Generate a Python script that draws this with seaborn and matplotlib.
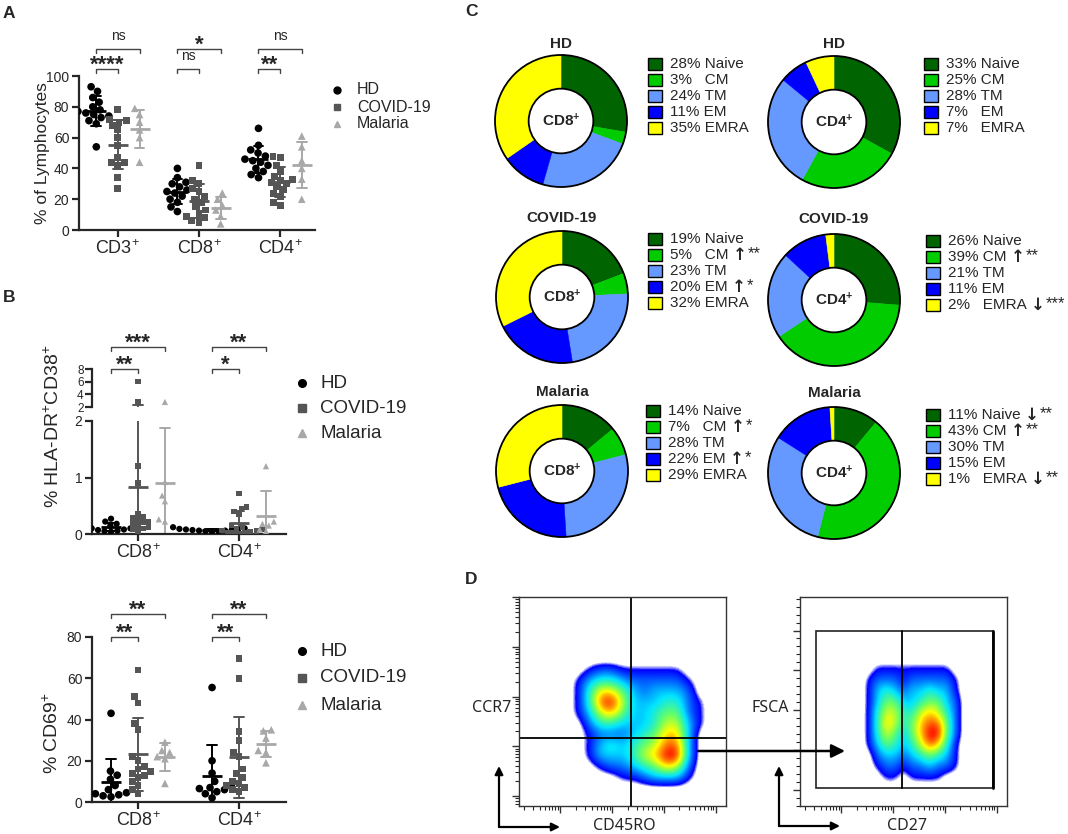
import numpy as np
import pandas as pd
import seaborn as sns
import matplotlib.pyplot as plt
import matplotlib.transforms as mtransforms
from matplotlib.colors import LinearSegmentedColormap
from matplotlib.lines import Line2D
from matplotlib.patches import Rectangle, Circle, FancyArrowPatch
from matplotlib.ticker import AutoMinorLocator

groups = ['HD', 'COVID-19', 'Malaria']

# A: % of lymphocytes
cells_a = ['CD3+', 'CD8+', 'CD4+']
lym_hd_cd3 = [93, 90, 86, 83, 80, 78, 77, 76, 75, 74, 73, 71, 69, 54]
lym_covid_cd3 = [78, 72, 71, 70, 68, 65, 60, 55, 47, 44, 42, 44, 34, 27]
lym_mal_cd3 = [79, 75, 70, 65, 60, 44]
lym_hd_cd8 = [40, 34, 31, 30, 28, 26, 25, 24, 22, 20, 18, 15, 12]
lym_covid_cd8 = [42, 32, 30, 27, 25, 22, 20, 18, 15, 13, 11, 9, 8, 6, 5]
lym_mal_cd8 = [24, 20, 16, 13, 9, 4]
lym_hd_cd4 = [66, 55, 52, 50, 48, 46, 45, 44, 42, 40, 38, 36, 34]
lym_covid_cd4 = [48, 47, 42, 38, 35, 33, 32, 31, 30, 28, 26, 24, 22, 18, 16]
lym_mal_cd4 = [61, 54, 45, 40, 33, 20]
a_sig_covid = ['****', 'ns', '**']
a_sig_mal = ['ns', '*', 'ns']

# B: HLA-DR+CD38+ and CD69+
cells_b = ['CD8+', 'CD4+']
act_hd_cd8 = [0.27, 0.22, 0.18, 0.15, 0.13, 0.12, 0.1, 0.1, 0.08, 0.07, 0.06, 0.05, 0.04]
act_covid_cd8 = [6.0, 2.8, 1.2, 0.9, 0.35, 0.3, 0.28, 0.25, 0.22, 0.2, 0.18, 0.15, 0.12, 0.1, 0.08, 0.05]
act_mal_cd8 = [2.8, 0.92, 0.68, 0.58, 0.26, 0.22]
act_hd_cd4 = [0.12, 0.1, 0.09, 0.08, 0.08, 0.07, 0.07, 0.06, 0.06, 0.05, 0.05, 0.04]
act_covid_cd4 = [0.72, 0.48, 0.44, 0.4, 0.35, 0.15, 0.12, 0.1, 0.08, 0.06, 0.05, 0.04, 0.03, 0.02, 0.02, 0.01]
act_mal_cd4 = [1.2, 0.22, 0.18, 0.15, 0.08, 0.05]
act_sig_covid = ['**', '*']
act_sig_mal = ['***', '**']

cd69_hd_cd8 = [43, 15, 13, 11, 8, 6, 5, 4.5, 4, 3.5, 3, 2.5]
cd69_covid_cd8 = [64, 51, 48, 38, 35, 22, 20, 17, 16, 15, 14, 13, 12, 10, 8, 6, 4]
cd69_mal_cd8 = [29, 25, 24, 22, 21, 9]
cd69_hd_cd4 = [55.5, 20, 14, 10, 8, 7, 6.5, 6, 5, 4, 2]
cd69_covid_cd4 = [69.5, 60, 34, 30, 24, 22, 16, 14, 12, 10, 9, 8, 7, 6, 5]
cd69_mal_cd4 = [35, 34.5, 31, 25, 24, 19]
cd69_sig_covid = ['**', '**']
cd69_sig_mal = ['**', '**']

# C: memory subsets
subsets = ['Naive', 'CM', 'TM', 'EM', 'EMRA']
subset_colors = ['#006400', '#00cc00', '#6699ff', '#0000ff', '#ffff00']
cd8_hd = [28, 3, 24, 11, 35]
cd4_hd = [33, 25, 28, 7, 7]
cd8_covid = [19, 5, 23, 20, 32]
cd4_covid = [26, 39, 21, 11, 2]
cd8_mal = [14, 7, 28, 22, 29]
cd4_mal = [11, 43, 30, 15, 1]
no_sig = ['', '', '', '', '']
cd8_covid_sig = ['', '↑**', '', '↑*', '']
cd4_covid_sig = ['', '↑**', '', '', '↓***']
cd8_mal_sig = ['', '↑*', '', '↑*', '']
cd4_mal_sig = ['↓**', '↑**', '', '', '↓**']

# D: density (rows top to bottom)
flow_ccr7 = [
    [0, 1, 2, 2, 1, 1, 1, 1, 1, 1, 0, 0],
    [1, 3, 4, 4, 3, 2, 2, 2, 2, 2, 1, 0],
    [1, 4, 7, 7, 5, 3, 2, 3, 3, 3, 2, 0],
    [1, 4, 8, 9, 6, 3, 3, 3, 4, 4, 2, 1],
    [1, 3, 6, 7, 5, 3, 3, 4, 5, 5, 2, 1],
    [0, 2, 4, 4, 3, 3, 3, 4, 6, 6, 3, 1],
    [0, 1, 2, 2, 2, 3, 4, 5, 7, 7, 3, 0],
    [0, 1, 3, 4, 3, 4, 5, 6, 8, 8, 3, 0],
    [0, 1, 3, 3, 3, 4, 6, 7, 9, 9, 3, 0],
    [0, 0, 1, 2, 2, 3, 4, 5, 7, 6, 2, 0],
    [0, 0, 0, 0, 1, 1, 2, 3, 3, 3, 1, 0],
]
flow_cd27 = [
    [0, 1, 1, 1, 1, 1, 1, 1, 1, 1, 0, 0],
    [1, 2, 2, 2, 1, 2, 2, 2, 2, 2, 1, 0],
    [1, 3, 4, 3, 2, 3, 3, 4, 3, 3, 1, 0],
    [1, 3, 5, 5, 3, 3, 4, 5, 5, 3, 2, 0],
    [1, 4, 6, 6, 4, 4, 6, 7, 6, 4, 2, 0],
    [1, 4, 7, 6, 4, 5, 7, 8, 8, 5, 2, 0],
    [1, 4, 6, 5, 3, 5, 7, 9, 9, 5, 2, 0],
    [1, 3, 5, 4, 3, 4, 6, 8, 7, 4, 1, 0],
    [0, 2, 3, 3, 2, 3, 4, 5, 4, 3, 1, 0],
    [0, 1, 2, 2, 1, 2, 2, 3, 2, 2, 1, 0],
    [0, 0, 1, 1, 0, 1, 1, 1, 1, 0, 0, 0],
]


def long_frame(cells, table):
    rows = []
    for cell, per_group in zip(cells, table):
        for g, vals in zip(groups, per_group):
            rows += [(cell, g, v) for v in vals]
    return pd.DataFrame(rows, columns=['cell', 'group', 'value'])


lym = long_frame(cells_a, [[lym_hd_cd3, lym_covid_cd3, lym_mal_cd3],
                           [lym_hd_cd8, lym_covid_cd8, lym_mal_cd8],
                           [lym_hd_cd4, lym_covid_cd4, lym_mal_cd4]])
act = long_frame(cells_b, [[act_hd_cd8, act_covid_cd8, act_mal_cd8],
                           [act_hd_cd4, act_covid_cd4, act_mal_cd4]])
cd69 = long_frame(cells_b, [[cd69_hd_cd8, cd69_covid_cd8, cd69_mal_cd8],
                            [cd69_hd_cd4, cd69_covid_cd4, cd69_mal_cd4]])

sns.set_style('ticks')
plt.rcParams['font.family'] = ['Liberation Sans', 'DejaVu Sans']
plt.rcParams['mathtext.fontset'] = 'custom'
plt.rcParams['mathtext.rm'] = 'Liberation Sans'
plt.rcParams['mathtext.it'] = 'Liberation Sans:italic'
plt.rcParams['mathtext.bf'] = 'Liberation Sans:bold'

W, H = 1068, 834
fig = plt.figure(figsize=(W / 100, H / 100), dpi=100)
renderer = fig.canvas.get_renderer()


def fx(x):
    return x / W


def fy(y):
    return 1 - y / H


def px_axes(l, t, r, b):
    return fig.add_axes([fx(l), fy(b), (r - l) / W, (b - t) / H])


palette = {'HD': 'black', 'COVID-19': '#555555', 'Malaria': '#a8a8a8'}
shapes = {'HD': 'o', 'COVID-19': 's', 'Malaria': '^'}
DOD = 0.267


def sup(c):
    return c[:-1] + '$^{+}$'


def dots(ax, df, order, capsize, xlim, size=5.5):
    for g in groups:
        sns.swarmplot(data=df[df['group'] == g], x='cell', y='value', hue='group',
                      order=order, hue_order=groups, palette=palette, dodge=True,
                      marker=shapes[g], size=size - 0.5 if g == 'COVID-19' else size,
                      linewidth=0, legend=False, warn_thresh=1, ax=ax)
    sns.pointplot(data=df, x='cell', y='value', hue='group', order=order,
                  hue_order=groups, palette=palette, dodge=2 * DOD, errorbar='sd',
                  capsize=capsize, marker='_', linestyle='none', markersize=15,
                  markeredgewidth=2, err_kws={'linewidth': 1.4}, legend=False, ax=ax)
    sns.despine(ax=ax)
    ax.set_xlim(*xlim)
    ax.set_xlabel('')
    ax.set_ylabel('')
    ax.set_xticks(range(len(order)))
    ax.set_xticklabels([sup(c) for c in order])
    for s in ['left', 'bottom']:
        ax.spines[s].set_linewidth(1.6)
    ax.tick_params(width=1.6, length=5, pad=2)
    ax.tick_params(axis='x', labelsize=13)
    ax.tick_params(axis='y', labelsize=10)


def bracket(ax, x1, x2, y_px, text):
    trans = mtransforms.blended_transform_factory(ax.transData, fig.transFigure)
    ax.plot([x1, x1, x2, x2], [fy(y_px + 4), fy(y_px), fy(y_px), fy(y_px + 4)],
            transform=trans, color='#444444', lw=1, clip_on=False)
    if text == 'ns':
        ax.text((x1 + x2) / 2, fy(y_px - 8.5), text, transform=trans, ha='center',
                va='baseline', fontsize=10)
    else:
        ax.text((x1 + x2) / 2, fy(y_px + 2), text, transform=trans, ha='center',
                va='baseline', fontsize=16, fontweight='bold')


def brackets(ax, sig_covid, sig_mal, y_low, y_high):
    for i, (lo, hi) in enumerate(zip(sig_covid, sig_mal)):
        bracket(ax, i - DOD, i, y_low, lo)
        bracket(ax, i - DOD, i + DOD, y_high, hi)


def group_legend(x_marker, x_text, ys, fs, msize):
    for g, y in zip(groups, ys):
        fig.add_artist(Line2D([fx(x_marker)], [fy(y)], marker=shapes[g], color=palette[g],
                              markersize=msize, linestyle='none', transform=fig.transFigure))
        fig.text(fx(x_text), fy(y), g, fontsize=fs, va='center', ha='left')


# ---- A
ax_a = px_axes(79, 76, 315, 230)
dots(ax_a, lym, cells_a, 0.12, (-0.48, 2.43))
ax_a.set_ylim(0, 100)
ax_a.set_yticks([0, 20, 40, 60, 80, 100])
brackets(ax_a, a_sig_covid, a_sig_mal, 69, 49)
fig.text(fx(43), fy(153), '% of Lymphocytes', rotation=90, ha='center', va='center', fontsize=12.5)
group_legend(337, 357, [90, 107, 124], 11.5, 5)

# ---- B top (broken axis)
ax_lo = px_axes(92, 421, 286, 534)
ax_hi = px_axes(92, 369, 286, 407)
for ax in (ax_lo, ax_hi):
    dots(ax, act, cells_b, 0.1, (-0.455, 1.465), size=4.5)
ax_lo.set_ylim(0, 2)
ax_lo.set_yticks([0, 1, 2])
ax_hi.set_ylim(2, 8)
ax_hi.set_yticks([2, 4, 6, 8])
ax_hi.tick_params(axis='y', labelsize=8.5, pad=1)
ax_hi.spines['bottom'].set_visible(False)
ax_hi.set_xticks([])
brackets(ax_hi, act_sig_covid, act_sig_mal, 369, 347)
fig.text(fx(53), fy(426), '% HLA-DR$^{+}$CD38$^{+}$', rotation=90, ha='center', va='center', fontsize=14)
group_legend(302, 320, [383, 408, 433], 13.5, 5.5)

# ---- B bottom
ax_69 = px_axes(92, 637, 286, 802)
dots(ax_69, cd69, cells_b, 0.1, (-0.455, 1.465))
ax_69.set_ylim(0, 80)
ax_69.set_yticks([0, 20, 40, 60, 80])
brackets(ax_69, cd69_sig_covid, cd69_sig_mal, 637, 614)
fig.text(fx(52), fy(733), '% CD69$^{+}$', rotation=90, ha='center', va='center', fontsize=14)
group_legend(302, 320, [651, 678, 705], 13.5, 5.5)


# ---- C donuts
def donut(cx, cy, values, center, title, title_y):
    r = 66 * 1.05
    ax = px_axes(cx - r, cy - r, cx + r, cy + r)
    wedges, _ = ax.pie(values, colors=subset_colors, startangle=90, counterclock=False,
                       radius=1, wedgeprops={'width': 0.51})
    for w in wedges:
        w.set_edgecolor(w.get_facecolor())
        w.set_linewidth(0.4)
    ax.add_patch(Circle((0, 0), 1, fill=False, lw=1.3, ec='black'))
    ax.add_patch(Circle((0, 0), 0.49, fill=False, lw=1.3, ec='black'))
    ax.set_xlim(-1.05, 1.05)
    ax.set_ylim(-1.05, 1.05)
    ax.set_aspect('equal')
    ax.axis('off')
    ax.text(0, 0, center + '$^{\\mathbf{+}}$', ha='center', va='center', fontsize=11, fontweight='bold')
    fig.text(fx(cx), fy(title_y), title, ha='center', va='center', fontsize=11, fontweight='bold')


def donut_legend(x_sq, y0, values, sig):
    for i, (name, v, col, s) in enumerate(zip(subsets, values, subset_colors, sig)):
        y = y0 + 16 * i
        fig.add_artist(Rectangle((fx(x_sq), fy(y + 6)), 14 / W, 12 / H, fc=col, ec='black',
                                 lw=1, transform=fig.transFigure))
        label = f'{v}%' + ('   ' if v < 10 else ' ') + name
        t = fig.text(fx(x_sq + 22), fy(y), label, fontsize=11, va='center', ha='left')
        if s:
            x_end = t.get_window_extent(renderer).x1
            a = fig.text(fx(x_end + 4), fy(y), s[0], fontsize=12, va='center', ha='left',
                         fontweight='bold', family=['DejaVu Sans'])
            x_end = a.get_window_extent(renderer).x1
            fig.text(fx(x_end + 1), fy(y - 1), s[1:], fontsize=12, va='center', ha='left')


donut(561, 121, cd8_hd, 'CD8', 'HD', 44)
donut(834, 122, cd4_hd, 'CD4', 'HD', 44)
donut(562, 297, cd8_covid, 'CD8', 'COVID-19', 218)
donut(834, 300, cd4_covid, 'CD4', 'COVID-19', 219)
donut(562, 471, cd8_mal, 'CD8', 'Malaria', 392)
donut(834, 473, cd4_mal, 'CD4', 'Malaria', 393)
donut_legend(648, 64, cd8_hd, no_sig)
donut_legend(924, 64, cd4_hd, no_sig)
donut_legend(648, 239, cd8_covid, cd8_covid_sig)
donut_legend(926, 241, cd4_covid, cd4_covid_sig)
donut_legend(646, 411, cd8_mal, cd8_mal_sig)
donut_legend(926, 415, cd4_mal, cd4_mal_sig)

# ---- D flow plots
flow_cmap = LinearSegmentedColormap.from_list('flow', [
    (0.0, 'white'), (0.05, 'white'), (0.09, '#0000ff'), (0.33, '#00e5ff'),
    (0.5, '#66ff66'), (0.65, '#ffff00'), (0.85, '#ff2000'), (1.0, '#c00000')])


def flow(l, t, r, b, grid, xs, ys):
    ax = px_axes(l, t, r, b)
    img = np.pad(np.array(grid, dtype=float), 1)
    dx = (xs[1] - xs[0]) / (img.shape[1] - 2)
    dy = (ys[1] - ys[0]) / (img.shape[0] - 2)
    ax.imshow(img, extent=(xs[0] - dx, xs[1] + dx, ys[0] - dy, ys[1] + dy),
              transform=ax.transAxes, cmap=flow_cmap, vmin=0, vmax=10,
              interpolation='bicubic', aspect='auto')
    for s in ax.spines.values():
        s.set_color('#333333')
        s.set_linewidth(1)
    ax.set_xscale('log')
    ax.set_xlim(10 ** 1.2, 10 ** 5.2)
    ax.tick_params(labelleft=False, labelbottom=False, direction='out', color='#333333')
    ax.tick_params(which='major', length=5, width=1)
    ax.tick_params(which='minor', length=3, width=0.8)
    return ax


ax_d1 = flow(519, 597, 726, 806, flow_ccr7, (0.26, 0.895), (0.115, 0.67))
ax_d1.set_yscale('log')
ax_d1.set_ylim(10 ** 0.8, 10 ** 5)
ax_d1.plot([0.541, 0.541], [0, 1], transform=ax_d1.transAxes, color='black', lw=1.3)
ax_d1.plot([0, 1], [0.325, 0.325], transform=ax_d1.transAxes, color='black', lw=1.3)

ax_d2 = flow(800, 597, 1007, 806, flow_cd27, (0.31, 0.81), (0.115, 0.68))
ax_d2.set_ylim(0, 262)
ax_d2.set_yticks([20, 70, 120, 170, 220])
ax_d2.yaxis.set_minor_locator(AutoMinorLocator(5))
ax_d2.add_patch(Rectangle((0.077, 0.086), 0.855, 0.751, fill=False, ec='#222222', lw=1.2,
                          transform=ax_d2.transAxes))
ax_d2.plot([0.932, 0.932], [0.086, 0.837], transform=ax_d2.transAxes, color='black', lw=2)
ax_d2.plot([0.493, 0.493], [0.086, 0.837], transform=ax_d2.transAxes, color='black', lw=1.3)


def arrow(x1, y1, x2, y2, lw=1.6, ms=12):
    fig.add_artist(FancyArrowPatch((fx(x1), fy(y1)), (fx(x2), fy(y2)), transform=fig.transFigure,
                                   arrowstyle='-|>', mutation_scale=ms, lw=lw, color='black',
                                   shrinkA=0, shrinkB=0))


arrow(499, 827, 499, 766)
arrow(499, 827, 560, 827)
arrow(779, 826, 779, 766)
arrow(779, 826, 840, 826)
arrow(698, 751, 845, 751, lw=1.8, ms=20)
flow_font = ['Noto Sans', 'DejaVu Sans']
fig.text(fx(492), fy(708), 'CCR7', ha='center', va='center', fontsize=11.5, family=flow_font)
fig.text(fx(624), fy(826), 'CD45RO', ha='center', va='center', fontsize=11.5, family=flow_font)
fig.text(fx(770), fy(708), 'FSCA', ha='center', va='center', fontsize=11.5, family=flow_font)
fig.text(fx(907), fy(826), 'CD27', ha='center', va='center', fontsize=11.5, family=flow_font)

# panel letters
for letter, x, y in [('A', 9, 13), ('B', 9, 297), ('C', 471, 11), ('D', 471, 580)]:
    fig.text(fx(x), fy(y), letter, ha='center', va='center', fontsize=12.5, fontweight='bold')

fig.savefig('out.png', dpi=100)
